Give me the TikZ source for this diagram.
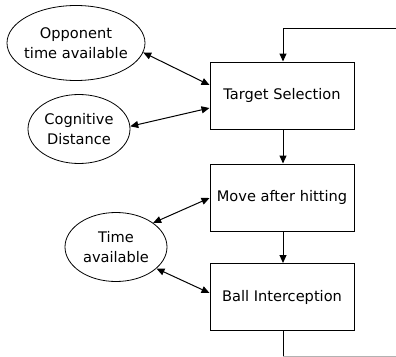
\documentclass[tikz,border=0pt]{standalone}
\usepackage{fontspec}
\setmainfont{DejaVu Sans}
\usetikzlibrary{arrows.meta,shapes.geometric}
\begin{document}
\begin{tikzpicture}[x=1pt,y=-1pt,
  every node/.style={font=\fontsize{14.6}{19.5}\selectfont, align=center, inner sep=0pt},
  stagebox/.style={draw, line width=1pt, minimum width=144pt, minimum height=67pt},
  factor/.style={draw, ellipse, line width=0.8pt},
  link/.style={line width=1pt, {Triangle[length=8pt,width=7pt]}-{Triangle[length=8pt,width=7pt]}},
  flow/.style={line width=1pt, -{Triangle[length=8pt,width=7pt]}}]
\useasboundingbox (0,0) rectangle (396,356);

% processing stages
\node[stagebox] (ts)  at (282,95.5)  {Target Selection};
\node[stagebox] (mah) at (282,197.5) {Move after hitting};
\node[stagebox] (bi)  at (282,297)   {Ball Interception};

% influencing factors: outline first, then its caption
\node[factor, minimum width=138pt, minimum height=75pt] (opp) at (76,43)  {};
\node[factor, minimum width=102pt, minimum height=69pt] (cog) at (79,129) {};
\node[factor, minimum width=102pt, minimum height=69pt] (tim) at (116,247) {};
\node (oppT) at (opp) {Opponent\\time available};
\node (cogT) at (cog) {Cognitive\\Distance};
\node (timT) at (tim) {Time\\available};

% loop in and out
\coordinate (inR)  at (396,28);
\coordinate (inC)  at (283,28);
\coordinate (outC) at (283,356.2);
\coordinate (outR) at (396,356.2);
\draw[flow] (inR) -- (inC) -- ([xshift=1pt]ts.north);
\draw[line width=1pt] ([xshift=1pt]bi.south) -- (outC);
\draw[line width=0.8pt, gray!60] (outC) -- (outR);

% stage sequence
\draw[flow] ([xshift=1pt]ts.south) -- ([xshift=1pt]mah.north);
\draw[flow] ([xshift=1pt]mah.south) -- ([xshift=1pt]bi.north);

% factor links
\draw[link] (opp.-8) -- ([yshift=10.5pt]ts.west);
\draw[link] (cog.3) -- ([yshift=-12.5pt]ts.west);
\draw[link] (tim.33) -- ([yshift=-0.5pt]mah.west);
\draw[link] (tim.-28) -- ([yshift=4pt]bi.west);
\end{tikzpicture}
\end{document}
